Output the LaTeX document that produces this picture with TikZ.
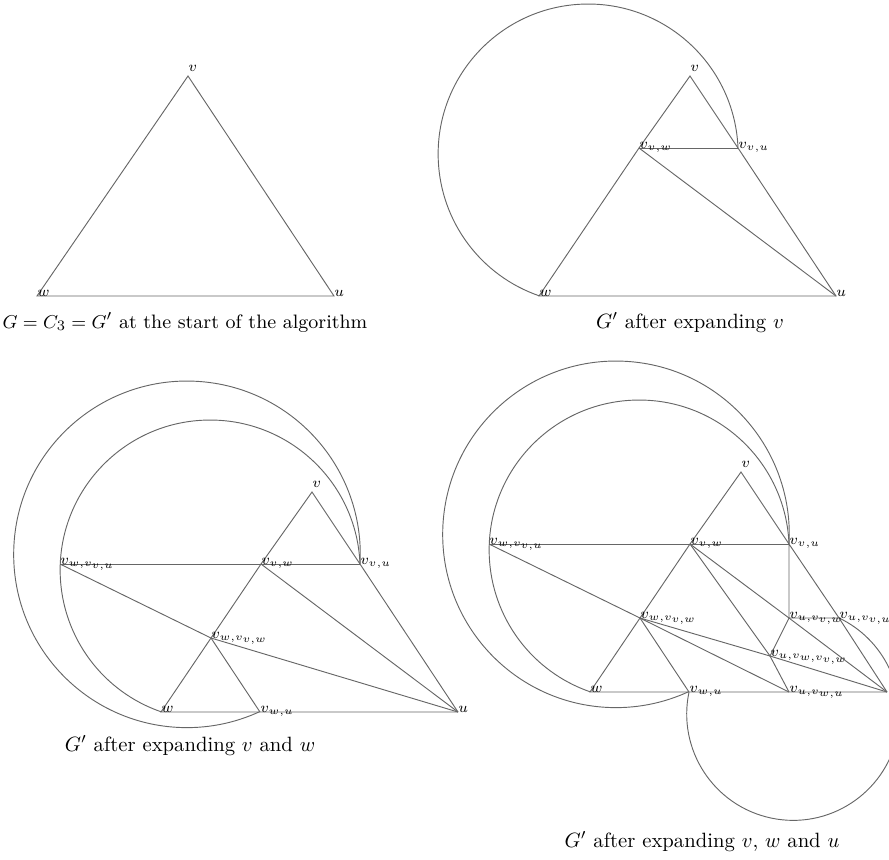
\documentclass[tikz,border=0pt]{standalone}
\usepackage{amsmath}

\tikzset{
 gline/.style={draw=black!60,line width=.45pt},
 lab/.style={anchor=base west,inner sep=0pt,font=\scriptsize},
 captext/.style={anchor=base,inner sep=0pt}
}

\begin{document}
\begin{tikzpicture}[x=0.017cm,y=-0.017cm]
 \useasboundingbox (0,0) rectangle (889,859);
 % start: the triangle C_3
 \begin{scope}[shift={(-502,0)}]
 \coordinate (a-v) at (690,76);
 \coordinate (a-w) at (539,296);
 \coordinate (a-u) at (836,296);
 \draw[gline] (a-v)--(a-w)--(a-u)--cycle;
 \node[lab] (a-lv) at ([yshift=2pt]a-v) {$v$};
 \node[lab] (a-lw) at (a-w) {$w$};
 \node[lab] (a-lu) at (a-u) {$u$};
 \node[captext,font=\fontsize{9.4}{11}\selectfont] (a-cap) at (687,328) {$G=C_3=G'$ at the start of the algorithm};
 \end{scope}
 % after expanding v
 \begin{scope}
 \coordinate (b-v) at (690,76);
 \coordinate (b-vw) at (639,148);
 \coordinate (b-vu) at (738,148);
 \coordinate (b-w) at (539,296);
 \coordinate (b-u) at (836,296);
 \draw[gline] (b-v)--(b-vw)--(b-w)--(b-u)--(b-vu)--cycle;
 \draw[gline] (b-vw)--(b-vu);
 \draw[gline] (b-vw)--(b-u);
 \draw[gline] (b-vu) arc[start angle=-2.3,end angle=-251,radius=150];
 \node[lab] (b-lv) at ([yshift=2pt]b-v) {$v$};
 \node[lab] (b-lvw) at (b-vw) {$v_{v,w}$};
 \node[lab] (b-lvu) at (b-vu) {$v_{v,u}$};
 \node[lab] (b-lw) at (b-w) {$w$};
 \node[lab] (b-lu) at (b-u) {$u$};
 \node[captext] (b-cap) at (690,328) {$G'$ after expanding $v$};
 \end{scope}
 % after expanding v and w
 \begin{scope}[shift={(-378,416)}]
 \coordinate (c-v) at (690,76);
 \coordinate (c-vw) at (639,148);
 \coordinate (c-vu) at (738,148);
 \coordinate (c-wvu) at (438,148);
 \coordinate (c-wvw) at (589,222);
 \coordinate (c-w) at (539,296);
 \coordinate (c-wu) at (638,296);
 \coordinate (c-u) at (836,296);
 \draw[gline] (c-vw)--(c-v)--(c-vu);
 \draw[gline] (c-wvu)--(c-vw)--(c-vu);
 \draw[gline] (c-vw)--(c-wvw)--(c-w)--(c-wu)--(c-u);
 \draw[gline] (c-wvw)--(c-wu);
 \draw[gline] (c-wvu)--(c-wvw)--(c-u);
 \draw[gline] (c-vw)--(c-u);
 \draw[gline] (c-vu)--(c-u);
 \draw[gline] (c-vu) arc[start angle=-2.3,end angle=-251,radius=150];
 \draw[gline] (c-vu) arc[start angle=3.2,end angle=-294.9,radius=173.3];
 \node[lab] (c-lv) at ([yshift=2pt]c-v) {$v$};
 \node[lab] (c-lvw) at (c-vw) {$v_{v,w}$};
 \node[lab] (c-lvu) at (c-vu) {$v_{v,u}$};
 \node[lab] (c-lwvu) at (c-wvu) {$v_{w,v_{v,u}}$};
 \node[lab] (c-lwvw) at (c-wvw) {$v_{w,v_{v,w}}$};
 \node[lab] (c-lw) at (c-w) {$w$};
 \node[lab] (c-lwu) at (c-wu) {$v_{w,u}$};
 \node[lab] (c-lu) at (c-u) {$u$};
 \node[captext] (c-cap) at (568,335) {$G'$ after expanding $v$ and $w$};
 \end{scope}
 % after expanding v, w and u
 \begin{scope}[shift={(51,396)}]
 \coordinate (d-v) at (690,76);
 \coordinate (d-vw) at (639,148);
 \coordinate (d-vu) at (738,148);
 \coordinate (d-wvu) at (438,148);
 \coordinate (d-wvw) at (589,222);
 \coordinate (d-w) at (539,296);
 \coordinate (d-wu) at (638,296);
 \coordinate (d-uvw) at (738,222);
 \coordinate (d-uvu) at (788,222);
 \coordinate (d-uwvw) at (719,260);
 \coordinate (d-uwu) at (738,296);
 \coordinate (d-u) at (836,296);
 \draw[gline] (d-vw)--(d-v)--(d-vu);
 \draw[gline] (d-wvu)--(d-vw)--(d-vu);
 \draw[gline] (d-vw)--(d-wvw)--(d-w)--(d-wu)--(d-uwu)--(d-u);
 \draw[gline] (d-wvw)--(d-wu);
 \draw[gline] (d-wvu)--(d-wvw);
 \draw[gline] (d-wvw)--(d-uwvw);
 \draw[gline] (d-wvw)--(d-uwu);
 \draw[gline] (d-vw)--(d-uwvw);
 \draw[gline] (d-vw)--(d-uvw);
 \draw[gline] (d-vu)--(d-uvw)--(d-uvu)--(d-vu);
 \draw[gline] (d-uvw)--(d-uwvw)--(d-uwu);
 \draw[gline] (d-uvw)--(d-u);
 \draw[gline] (d-uvu)--(d-u);
 \draw[gline] (d-uwvw)--(d-u);
 \draw[gline] (d-vu) arc[start angle=-2.3,end angle=-251,radius=150];
 \draw[gline] (d-vu) arc[start angle=3.2,end angle=-294.9,radius=173.3];
 \draw[gline] (d-wu) arc[start angle=191.9,end angle=-64.4,radius=106.4];
 \node[lab] (d-lv) at ([yshift=2pt]d-v) {$v$};
 \node[lab] (d-lvw) at (d-vw) {$v_{v,w}$};
 \node[lab] (d-lvu) at (d-vu) {$v_{v,u}$};
 \node[lab] (d-lwvu) at (d-wvu) {$v_{w,v_{v,u}}$};
 \node[lab] (d-lwvw) at (d-wvw) {$v_{w,v_{v,w}}$};
 \node[lab] (d-lw) at (d-w) {$w$};
 \node[lab] (d-lwu) at (d-wu) {$v_{w,u}$};
 \node[lab] (d-luvw) at (d-uvw) {$v_{u,v_{v,w}}$};
 \node[lab] (d-luvu) at (d-uvu) {$v_{u,v_{v,u}}$};
 \node[lab] (d-luwvw) at (d-uwvw) {$v_{u,v_{w,v_{v,w}}}$};
 \node[lab] (d-luwu) at (d-uwu) {$v_{u,v_{w,u}}$};
 \node[captext] (d-cap) at (651,451) {$G'$ after expanding $v$, $w$ and $u$};
 \end{scope}
\end{tikzpicture}
\end{document}
